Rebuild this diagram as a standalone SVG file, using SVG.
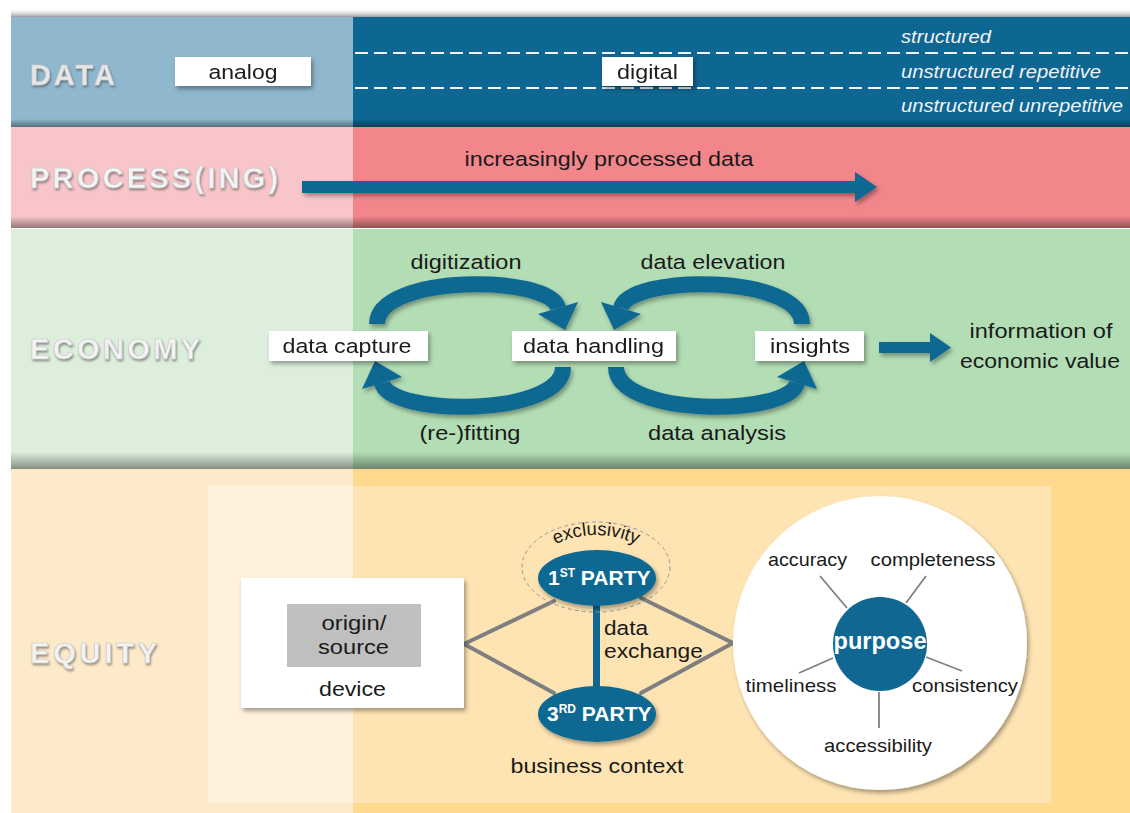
<svg xmlns="http://www.w3.org/2000/svg" width="1130" height="813" viewBox="0 0 1130 813">
<defs>
<style>
.t{font-family:"Liberation Sans",Arial,sans-serif;font-size:20.5px;fill:#1a1a1a}
.c{text-anchor:middle}
.it{font-family:"Liberation Sans",Arial,sans-serif;font-size:18.5px;font-style:italic;fill:#F2F2F2}
.band{font-family:"Liberation Sans",Arial,sans-serif;font-size:29px;font-weight:bold;fill:#F3F3F3;stroke:#C8C8C8;stroke-width:0.6}
.box{fill:#FFFFFF}
.wt{font-family:"Liberation Sans",Arial,sans-serif;font-weight:bold;fill:#FFFFFF}
.gl{stroke:#7F7F7F;stroke-width:4;fill:none;stroke-linecap:round}
.sp{stroke:#808080;stroke-width:1.8;fill:none}
.blue{fill:#0F6792}
</style>
<filter id="sh" x="-20%" y="-20%" width="150%" height="160%">
<feDropShadow dx="2" dy="3" stdDeviation="2" flood-color="#000" flood-opacity="0.35"/>
</filter>
<filter id="emb" x="-5%" y="-20%" width="115%" height="160%">
<feDropShadow dx="1" dy="2" stdDeviation="1" flood-color="#444" flood-opacity="0.55"/>
</filter>
<linearGradient id="bot" x1="0" y1="0" x2="0" y2="1">
<stop offset="0" stop-color="#000" stop-opacity="0"/>
<stop offset="1" stop-color="#000" stop-opacity="0.4"/>
</linearGradient>
<linearGradient id="top" x1="0" y1="0" x2="0" y2="1">
<stop offset="0" stop-color="#fff" stop-opacity="0"/>
<stop offset="1" stop-color="#999" stop-opacity="1"/>
</linearGradient>
<g id="carrow">
<path d="M377,324 C377,274 550,274 558,308" fill="none" stroke="#0F6792" stroke-width="16"/>
<polygon points="538,314 578,302 565,330" fill="#0F6792"/>
</g>
</defs>

<!-- top shadow -->
<rect x="11" y="8" width="1119" height="9" fill="url(#top)"/>

<!-- DATA band -->
<g id="band-data">
<rect x="11" y="17" width="342" height="110" fill="#8FB7CE"/>
<rect x="353" y="17" width="777" height="110" fill="#0E6692"/>
<rect x="11" y="119" width="1119" height="8" fill="url(#bot)"/>
<line x1="355" y1="53" x2="1130" y2="53" stroke="#F2F2F2" stroke-width="1.8" stroke-dasharray="13,6"/>
<line x1="355" y1="88" x2="1130" y2="88" stroke="#F2F2F2" stroke-width="1.8" stroke-dasharray="13,6"/>
<text class="band" x="30" y="85" textLength="85" lengthAdjust="spacing" filter="url(#emb)" style="fill:#E6E6E6">DATA</text>
<text class="it" x="901" y="43" textLength="90" lengthAdjust="spacingAndGlyphs">structured</text>
<text class="it" x="901" y="78" textLength="200" lengthAdjust="spacingAndGlyphs">unstructured repetitive</text>
<text class="it" x="901" y="112" textLength="222" lengthAdjust="spacingAndGlyphs">unstructured unrepetitive</text>
</g>
<g id="node-analog" filter="url(#sh)">
<rect class="box" x="175" y="57" width="136" height="29"/>
<text class="t c" x="243" y="79" textLength="69" lengthAdjust="spacingAndGlyphs">analog</text>
</g>
<g id="node-digital" filter="url(#sh)">
<rect class="box" x="602" y="57" width="91" height="29"/>
<text class="t c" x="647.5" y="79" textLength="61" lengthAdjust="spacingAndGlyphs">digital</text>
</g>

<!-- PROCESS band -->
<g id="band-process">
<rect x="11" y="127" width="342" height="101" fill="#F8C6CA"/>
<rect x="353" y="127" width="777" height="101" fill="#F2868B"/>
<rect x="11" y="216" width="1119" height="12" fill="url(#bot)"/>
<text class="band" x="30" y="188" textLength="248" lengthAdjust="spacing" filter="url(#emb)">PROCESS(ING)</text>
<text class="t c" x="609" y="166" textLength="289" lengthAdjust="spacingAndGlyphs">increasingly processed data</text>
</g>

<!-- ECONOMY band -->
<g id="band-economy">
<rect x="11" y="229" width="342" height="240" fill="#DDEFDC"/>
<rect x="353" y="229" width="777" height="240" fill="#B3DEB5"/>
<rect x="11" y="452" width="1119" height="17" fill="url(#bot)"/>
<text class="band" x="30" y="359" textLength="170" lengthAdjust="spacing" filter="url(#emb)">ECONOMY</text>
<text class="t c" x="466" y="269" textLength="111" lengthAdjust="spacingAndGlyphs">digitization</text>
<text class="t c" x="713" y="269" textLength="145" lengthAdjust="spacingAndGlyphs">data elevation</text>
<text class="t c" x="470" y="440" textLength="101" lengthAdjust="spacingAndGlyphs">(re-)fitting</text>
<text class="t c" x="717" y="440" textLength="138" lengthAdjust="spacingAndGlyphs">data analysis</text>
<text class="t c" x="1041" y="338" textLength="143" lengthAdjust="spacingAndGlyphs">information of</text>
<text class="t c" x="1040" y="368" textLength="160" lengthAdjust="spacingAndGlyphs">economic value</text>
</g>

<!-- EQUITY band -->
<g id="band-equity">
<rect x="11" y="469" width="342" height="344" fill="#FDEACA"/>
<rect x="353" y="469" width="777" height="344" fill="#FED98E"/>
<rect x="208" y="486" width="145" height="317" fill="#FEF1DE"/>
<rect x="353" y="486" width="698" height="317" fill="#FEE4B3"/>
<text class="band" x="30" y="663" textLength="127" lengthAdjust="spacing" filter="url(#emb)">EQUITY</text>
<text class="t c" x="597" y="773" textLength="173" lengthAdjust="spacingAndGlyphs">business context</text>
</g>

<!-- connectors -->
<g id="connectors">
<g filter="url(#sh)">
<rect x="302" y="181" width="554" height="12" class="blue"/>
<polygon points="855,172 877,187 855,202" class="blue"/>
<use href="#carrow"/>
<use href="#carrow" transform="translate(1179,0) scale(-1,1)"/>
<use href="#carrow" transform="translate(940,691) scale(-1,-1)"/>
<use href="#carrow" transform="translate(239,691) scale(1,-1)"/>
<rect x="879" y="342" width="52" height="11" class="blue"/>
<polygon points="930,333 951,347.5 930,362" class="blue"/>
</g>
<line class="gl" x1="464" y1="644" x2="554" y2="601"/>
<line class="gl" x1="464" y1="644" x2="554" y2="693"/>
<line class="gl" x1="641" y1="598" x2="733" y2="643"/>
<line class="gl" x1="733" y1="643" x2="641" y2="693"/>
<line x1="596.5" y1="604" x2="596.5" y2="690" stroke="#0F6792" stroke-width="7"/>
</g>

<!-- economy nodes -->
<g id="node-capture" filter="url(#sh)">
<rect class="box" x="269" y="331" width="159" height="30"/>
<text class="t c" x="347" y="353" textLength="129" lengthAdjust="spacingAndGlyphs">data capture</text>
</g>
<g id="node-handling" filter="url(#sh)">
<rect class="box" x="512" y="331" width="164" height="30"/>
<text class="t c" x="593.5" y="353" textLength="141" lengthAdjust="spacingAndGlyphs">data handling</text>
</g>
<g id="node-insights" filter="url(#sh)">
<rect class="box" x="755" y="331" width="109" height="30"/>
<text class="t c" x="810" y="353" textLength="80" lengthAdjust="spacingAndGlyphs">insights</text>
</g>

<!-- device -->
<g id="node-device">
<rect class="box" x="241" y="578" width="223" height="130" filter="url(#sh)"/>
<rect x="287" y="604" width="134" height="63" fill="#BFBFBF"/>
<text class="t c" x="354" y="630" textLength="65" lengthAdjust="spacingAndGlyphs">origin/</text>
<text class="t c" x="353.5" y="654" textLength="71" lengthAdjust="spacingAndGlyphs">source</text>
<text class="t c" x="352.5" y="696" textLength="67" lengthAdjust="spacingAndGlyphs">device</text>
</g>

<!-- parties -->
<g id="node-exclusivity">
<ellipse cx="596" cy="567" rx="74" ry="45" fill="none" stroke="#999" stroke-width="1" stroke-dasharray="4,3"/>
<path id="exPath" d="M546,549 Q596,521 646,549" fill="none"/>
<text class="t" style="font-size:18.5px"><textPath href="#exPath" startOffset="50%" text-anchor="middle">exclusivity</textPath></text>
</g>
<g id="node-party1">
<ellipse cx="597" cy="578" rx="59" ry="28" class="blue" filter="url(#sh)"/>
<text class="wt" x="548" y="585" style="font-size:21px">1<tspan style="font-size:12px" dy="-8">ST</tspan><tspan dy="8" style="font-size:21px"> PARTY</tspan></text>
</g>
<g id="node-party3">
<ellipse cx="597" cy="714" rx="59" ry="28" class="blue" filter="url(#sh)"/>
<text class="wt" x="547" y="721" style="font-size:21px">3<tspan style="font-size:12px" dy="-8">RD</tspan><tspan dy="8" style="font-size:21px"> PARTY</tspan></text>
</g>
<g id="label-exchange">
<text class="t" x="604" y="635" textLength="44" lengthAdjust="spacingAndGlyphs">data</text>
<text class="t" x="604" y="658" textLength="99" lengthAdjust="spacingAndGlyphs">exchange</text>
</g>

<!-- purpose circle -->
<g id="node-purpose">
<circle cx="880" cy="643" r="147" fill="#FFFFFF" filter="url(#sh)"/>
<line class="sp" x1="820" y1="576" x2="847" y2="608"/>
<line class="sp" x1="926" y1="576" x2="906" y2="603"/>
<line class="sp" x1="799" y1="673" x2="833" y2="658"/>
<line class="sp" x1="926" y1="657" x2="962" y2="671"/>
<line class="sp" x1="879" y1="692" x2="879" y2="728"/>
<circle cx="880" cy="644" r="47" class="blue"/>
<text class="wt c" x="880" y="649" style="font-size:24px" textLength="93" lengthAdjust="spacingAndGlyphs">purpose</text>
<text class="t c" x="807.5" y="566" style="font-size:19px" textLength="79" lengthAdjust="spacingAndGlyphs">accuracy</text>
<text class="t c" x="933" y="566" style="font-size:19px" textLength="125" lengthAdjust="spacingAndGlyphs">completeness</text>
<text class="t c" x="791" y="692" style="font-size:19px" textLength="91" lengthAdjust="spacingAndGlyphs">timeliness</text>
<text class="t c" x="965" y="692" style="font-size:19px" textLength="106" lengthAdjust="spacingAndGlyphs">consistency</text>
<text class="t c" x="878" y="752" style="font-size:19px" textLength="108" lengthAdjust="spacingAndGlyphs">accessibility</text>
</g>
</svg>
